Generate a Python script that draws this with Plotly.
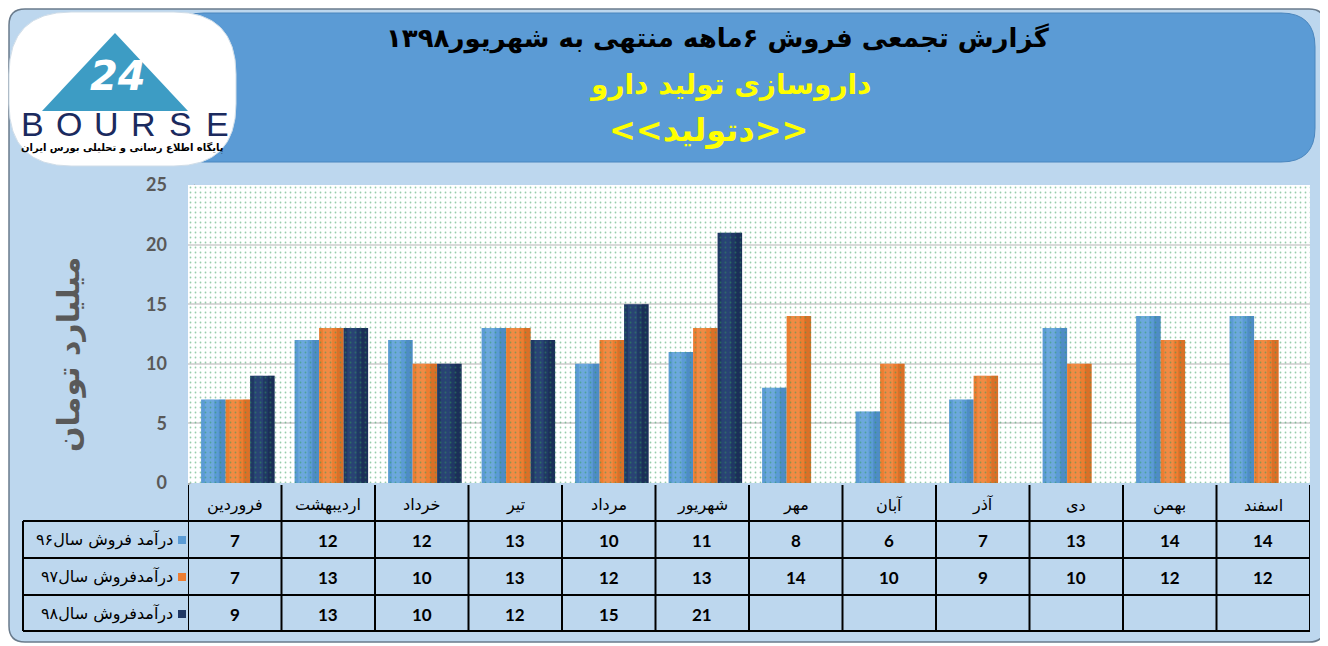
"""
Cumulative 6-month sales report chart (Darou Sazi Tolid Darou)
"""

import plotly.graph_objects as go

months = ['فروردین', 'اردیبهشت', 'خرداد', 'تیر', 'مرداد', 'شهریور',
          'مهر', 'آبان', 'آذر', 'دی', 'بهمن', 'اسفند']
sales_96 = [7, 12, 12, 13, 10, 11, 8, 6, 7, 13, 14, 14]
sales_97 = [7, 13, 10, 13, 12, 13, 14, 10, 9, 10, 12, 12]
sales_98 = [9, 13, 10, 12, 15, 21]
series_names = ['درآمد فروش سال۹۶', 'درآمدفروش سال۹۷', 'درآمدفروش سال۹۸']
y_ticks = [0, 5, 10, 15, 20, 25]

title_1 = 'گزارش تجمعی فروش ۶ماهه منتهی به شهریور۱۳۹۸'
title_2 = 'داروسازی تولید دارو'
title_3 = '&lt;&lt;دتولید&gt;&gt;'
y_title = 'میلیارد تومان'
logo_caption = 'پایگاه اطلاع رسانی و تحلیلی بورس ایران'

colors = ['#5B9BD5', '#ED7D31', '#203864']
light = ['#8CC0EE', '#F9A468', '#3A5894']
dark = ['#3F7BB3', '#C5621C', '#15264B']

# page coords (the page body has an 8px margin)
OFF = 8
W, H = 1328 - OFF, 646 - OFF
L, R, T, B = 188, 1310, 185, 483
PERSIAN = 'DejaVu Sans'
NUM = 'Lato'


def px(x):
    return (x - L) / (R - L)


def py(y):
    return (B - y) / (B - T)


def rrect(x0, y0, x1, y1, r):
    return (f"M {px(x0 + r)},{py(y0)} L {px(x1 - r)},{py(y0)} "
            f"Q {px(x1)},{py(y0)} {px(x1)},{py(y0 + r)} L {px(x1)},{py(y1 - r)} "
            f"Q {px(x1)},{py(y1)} {px(x1 - r)},{py(y1)} L {px(x0 + r)},{py(y1)} "
            f"Q {px(x0)},{py(y1)} {px(x0)},{py(y1 - r)} L {px(x0)},{py(y0 + r)} "
            f"Q {px(x0)},{py(y0)} {px(x0 + r)},{py(y0)} Z")


def label(x, y, text, size, color='black', bold=False, family=PERSIAN,
          xref='paper', xanchor='center', angle=0):
    return dict(x=x, y=py(y), xref=xref, yref='paper', text=text,
                showarrow=False, xanchor=xanchor, yanchor='middle', textangle=angle,
                font=dict(family=family, size=size, color=color,
                          weight='bold' if bold else 'normal'))


fig = go.Figure()

n = len(months)
bar_w = 0.262
all_series = [sales_96, sales_97, sales_98]

# dotted wall pattern
fig.add_trace(go.Scatter(
    x=[-0.5, n - 0.5, n - 0.5, -0.5], y=[0, 0, y_ticks[-1], y_ticks[-1]],
    fill='toself', mode='none', fillcolor='rgba(0,0,0,0)',
    fillpattern=dict(shape='.', fgcolor='#2E9B57', bgcolor='rgba(0,0,0,0)',
                     size=5, solidity=0.1),
    hoverinfo='skip', showlegend=False
))

for k, vals in enumerate(all_series):
    xs = list(range(len(vals)))
    off = -0.36 + k * bar_w
    fig.add_trace(go.Bar(
        x=xs, y=vals, name=series_names[k],
        offset=off, width=bar_w,
        marker=dict(color=colors[k], line=dict(width=0)),
        hovertemplate='%{y}<extra></extra>'
    ))
    # cylinder shading
    fig.add_trace(go.Bar(
        x=xs, y=vals, offset=off + 0.04, width=0.1,
        marker=dict(color=light[k], line=dict(width=0)), opacity=0.35,
        hoverinfo='skip', showlegend=False
    ))
    fig.add_trace(go.Bar(
        x=xs, y=vals, offset=off + 0.19, width=bar_w - 0.19,
        marker=dict(color=dark[k], line=dict(width=0)), opacity=0.45,
        hoverinfo='skip', showlegend=False
    ))

shapes = []
# outer panel
shapes.append(dict(type='path', xref='paper', yref='paper', layer='below',
                   path=rrect(9, 9, 1325, 642, 16),
                   fillcolor='#BDD7EE', line=dict(color='#6A7B8C', width=1.5)))
# title banner
shapes.append(dict(type='path', xref='paper', yref='paper', layer='below',
                   path=rrect(170, 13, 1315, 162, 34),
                   fillcolor='#5B9BD5', line=dict(color='#4A86BE', width=1)))
# logo oval
shapes.append(dict(type='path', xref='paper', yref='paper', layer='below',
                   path=rrect(9, 12, 236, 166, 62),
                   fillcolor='white', line=dict(color='#D0DDE8', width=1)))
# logo triangle
shapes.append(dict(type='path', xref='paper', yref='paper', layer='below',
                   path=f"M {px(115)},{py(33)} L {px(188)},{py(111)} L {px(42)},{py(111)} Z",
                   fillcolor='#3D9CC4', line=dict(width=0)))
# back wall
shapes.append(dict(type='rect', xref='x', yref='y', layer='below',
                   x0=-0.5, x1=n - 0.5, y0=0, y1=y_ticks[-1],
                   fillcolor='white', line=dict(width=0)))
# side wall strip
shapes.append(dict(type='path', xref='paper', yref='paper', layer='below',
                   path=f"M {px(188)},{py(190)} L {px(195)},{py(184)} L {px(195)},{py(480)} L {px(188)},{py(486)} Z",
                   fillcolor='#A9ADA9', line=dict(width=0)))

# table lines
for yy in [521, 558, 595, 631]:
    shapes.append(dict(type='line', xref='paper', yref='paper',
                       x0=px(23), x1=px(1310), y0=py(yy), y1=py(yy),
                       line=dict(color='black', width=2)))
shapes.append(dict(type='line', xref='paper', yref='paper',
                   x0=px(23), x1=px(23), y0=py(521), y1=py(631),
                   line=dict(color='black', width=2)))
for i in range(n + 1):
    shapes.append(dict(type='line', xref='x', yref='paper',
                       x0=i - 0.5, x1=i - 0.5, y0=py(485), y1=py(631),
                       line=dict(color='black', width=2)))

annotations = []
row_y = [540, 577, 614]
for i, m in enumerate(months):
    annotations.append(label(i, 505, m, 16, xref='x'))
for k, vals in enumerate(all_series):
    for i, v in enumerate(vals):
        annotations.append(label(i, row_y[k], str(v), 17, bold=True, family=NUM, xref='x'))
    annotations.append(label(px(175), row_y[k], series_names[k], 16, xanchor='right'))
    shapes.append(dict(type='rect', xref='paper', yref='paper',
                       x0=px(178), x1=px(186), y0=py(row_y[k] + 4), y1=py(row_y[k] - 4),
                       fillcolor=colors[k], line=dict(width=0)))

# titles
annotations.append(label(px(718), 38, title_1, 26, bold=True))
annotations.append(label(px(730), 84, title_2, 28, color='#FFFF00', bold=True))
annotations.append(label(px(708), 130, title_3, 32, color='#FFFF00', bold=True))
annotations.append(label(px(68), 355, y_title, 30, color='#595959', bold=True, angle=-90))

# logo text
annotations.append(label(px(118), 76, '<i>24</i>', 40, color='white', bold=True))
for i, ch in enumerate('BOURSE'):
    annotations.append(label(px(32 + i * 37), 124, ch, 34, color='#1B2A5E',
                             family='Liberation Sans'))
annotations.append(label(px(122), 147, logo_caption, 10, bold=True))

fig.update_layout(
    width=W, height=H,
    margin=dict(l=L - OFF, r=1328 - R, t=T - OFF, b=646 - B, pad=0),
    paper_bgcolor='white',
    plot_bgcolor='rgba(0,0,0,0)',
    barmode='overlay',
    showlegend=False,
    shapes=shapes,
    annotations=annotations,
    xaxis=dict(range=[-0.5, n - 0.5], showticklabels=False, showgrid=False,
               zeroline=False, showline=False, ticks=''),
    yaxis=dict(range=[0, y_ticks[-1]], tickvals=y_ticks, showgrid=True,
               gridcolor='#D9D9D9', gridwidth=1.5, zeroline=False, showline=False,
               ticklabelstandoff=20,
               tickfont=dict(family=NUM, size=18, color='#595959', weight='bold'))
)

fig.write_html("out.html")
